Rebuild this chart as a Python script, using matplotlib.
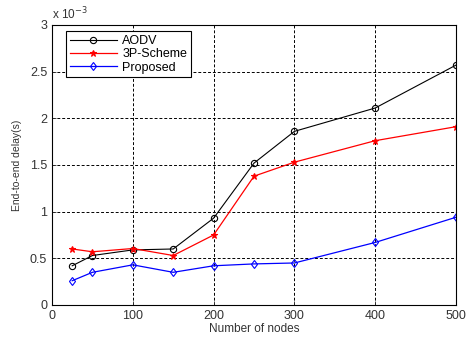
import matplotlib
matplotlib.use("Agg")
import matplotlib.pyplot as plt

# 数据（单位：x 10^-3 秒）
nodes = [25, 50, 100, 150, 200, 250, 300, 400, 500]
aodv = [0.42, 0.53, 0.59, 0.60, 0.93, 1.52, 1.86, 2.11, 2.57]
scheme3p = [0.60, 0.57, 0.605, 0.53, 0.75, 1.38, 1.53, 1.76, 1.91]
proposed = [0.26, 0.35, 0.43, 0.35, 0.42, 0.44, 0.45, 0.67, 0.94]

x_ticks = [0, 100, 200, 300, 400, 500]
y_ticks = [0, 0.5, 1, 1.5, 2, 2.5, 3]
y_tick_labels = ["0", "0.5", "1", "1.5", "2", "2.5", "3"]

plt.rcParams["font.family"] = ["Liberation Sans", "DejaVu Sans"]

fig = plt.figure(figsize=(4.66, 3.37), dpi=100)
ax = fig.add_axes([0.1116, 0.095, 0.867, 0.831])

ax.plot(nodes, aodv, "k-o", linewidth=0.8, markersize=4.5, markerfacecolor="none",
        markeredgewidth=0.8, label="AODV")
ax.plot(nodes, scheme3p, "r-*", linewidth=0.9, markersize=4.5, markeredgewidth=0.8,
        label="3P-Scheme")
ax.plot(nodes, proposed, "b-d", linewidth=0.9, markersize=4.5, markerfacecolor="none",
        markeredgewidth=0.8, label="Proposed")

ax.set_xlim(0, 500)
ax.set_ylim(0, 3)
ax.set_xticks(x_ticks)
ax.set_yticks(y_ticks)
ax.set_yticklabels(y_tick_labels)
ax.tick_params(labelsize=9, direction="in", length=3, width=0.6, colors="#333333")
for s in ax.spines.values():
    s.set_linewidth(0.8)

ax.grid(True, color="black", linestyle=(0, (3, 2)), linewidth=0.7)

ax.text(0.0, 1.01, r"x 10$^{-3}$", transform=ax.transAxes, fontsize=8.5, color="#333333",
        ha="left", va="bottom")

ax.set_xlabel("Number of nodes", fontsize=8.5, color="#333333", labelpad=1)
ax.set_ylabel("End-to-end delay(s)", fontsize=7.5, color="#333333", labelpad=6)

leg = ax.legend(loc="upper left", bbox_to_anchor=(0.025, 0.99), fontsize=9,
                frameon=True, fancybox=False, edgecolor="black", framealpha=1,
                borderpad=0.3, labelspacing=0.1, handlelength=3.8, handletextpad=0.4,
                borderaxespad=0.3)
leg.get_frame().set_linewidth(0.8)

fig.savefig("out.png", dpi=100)
